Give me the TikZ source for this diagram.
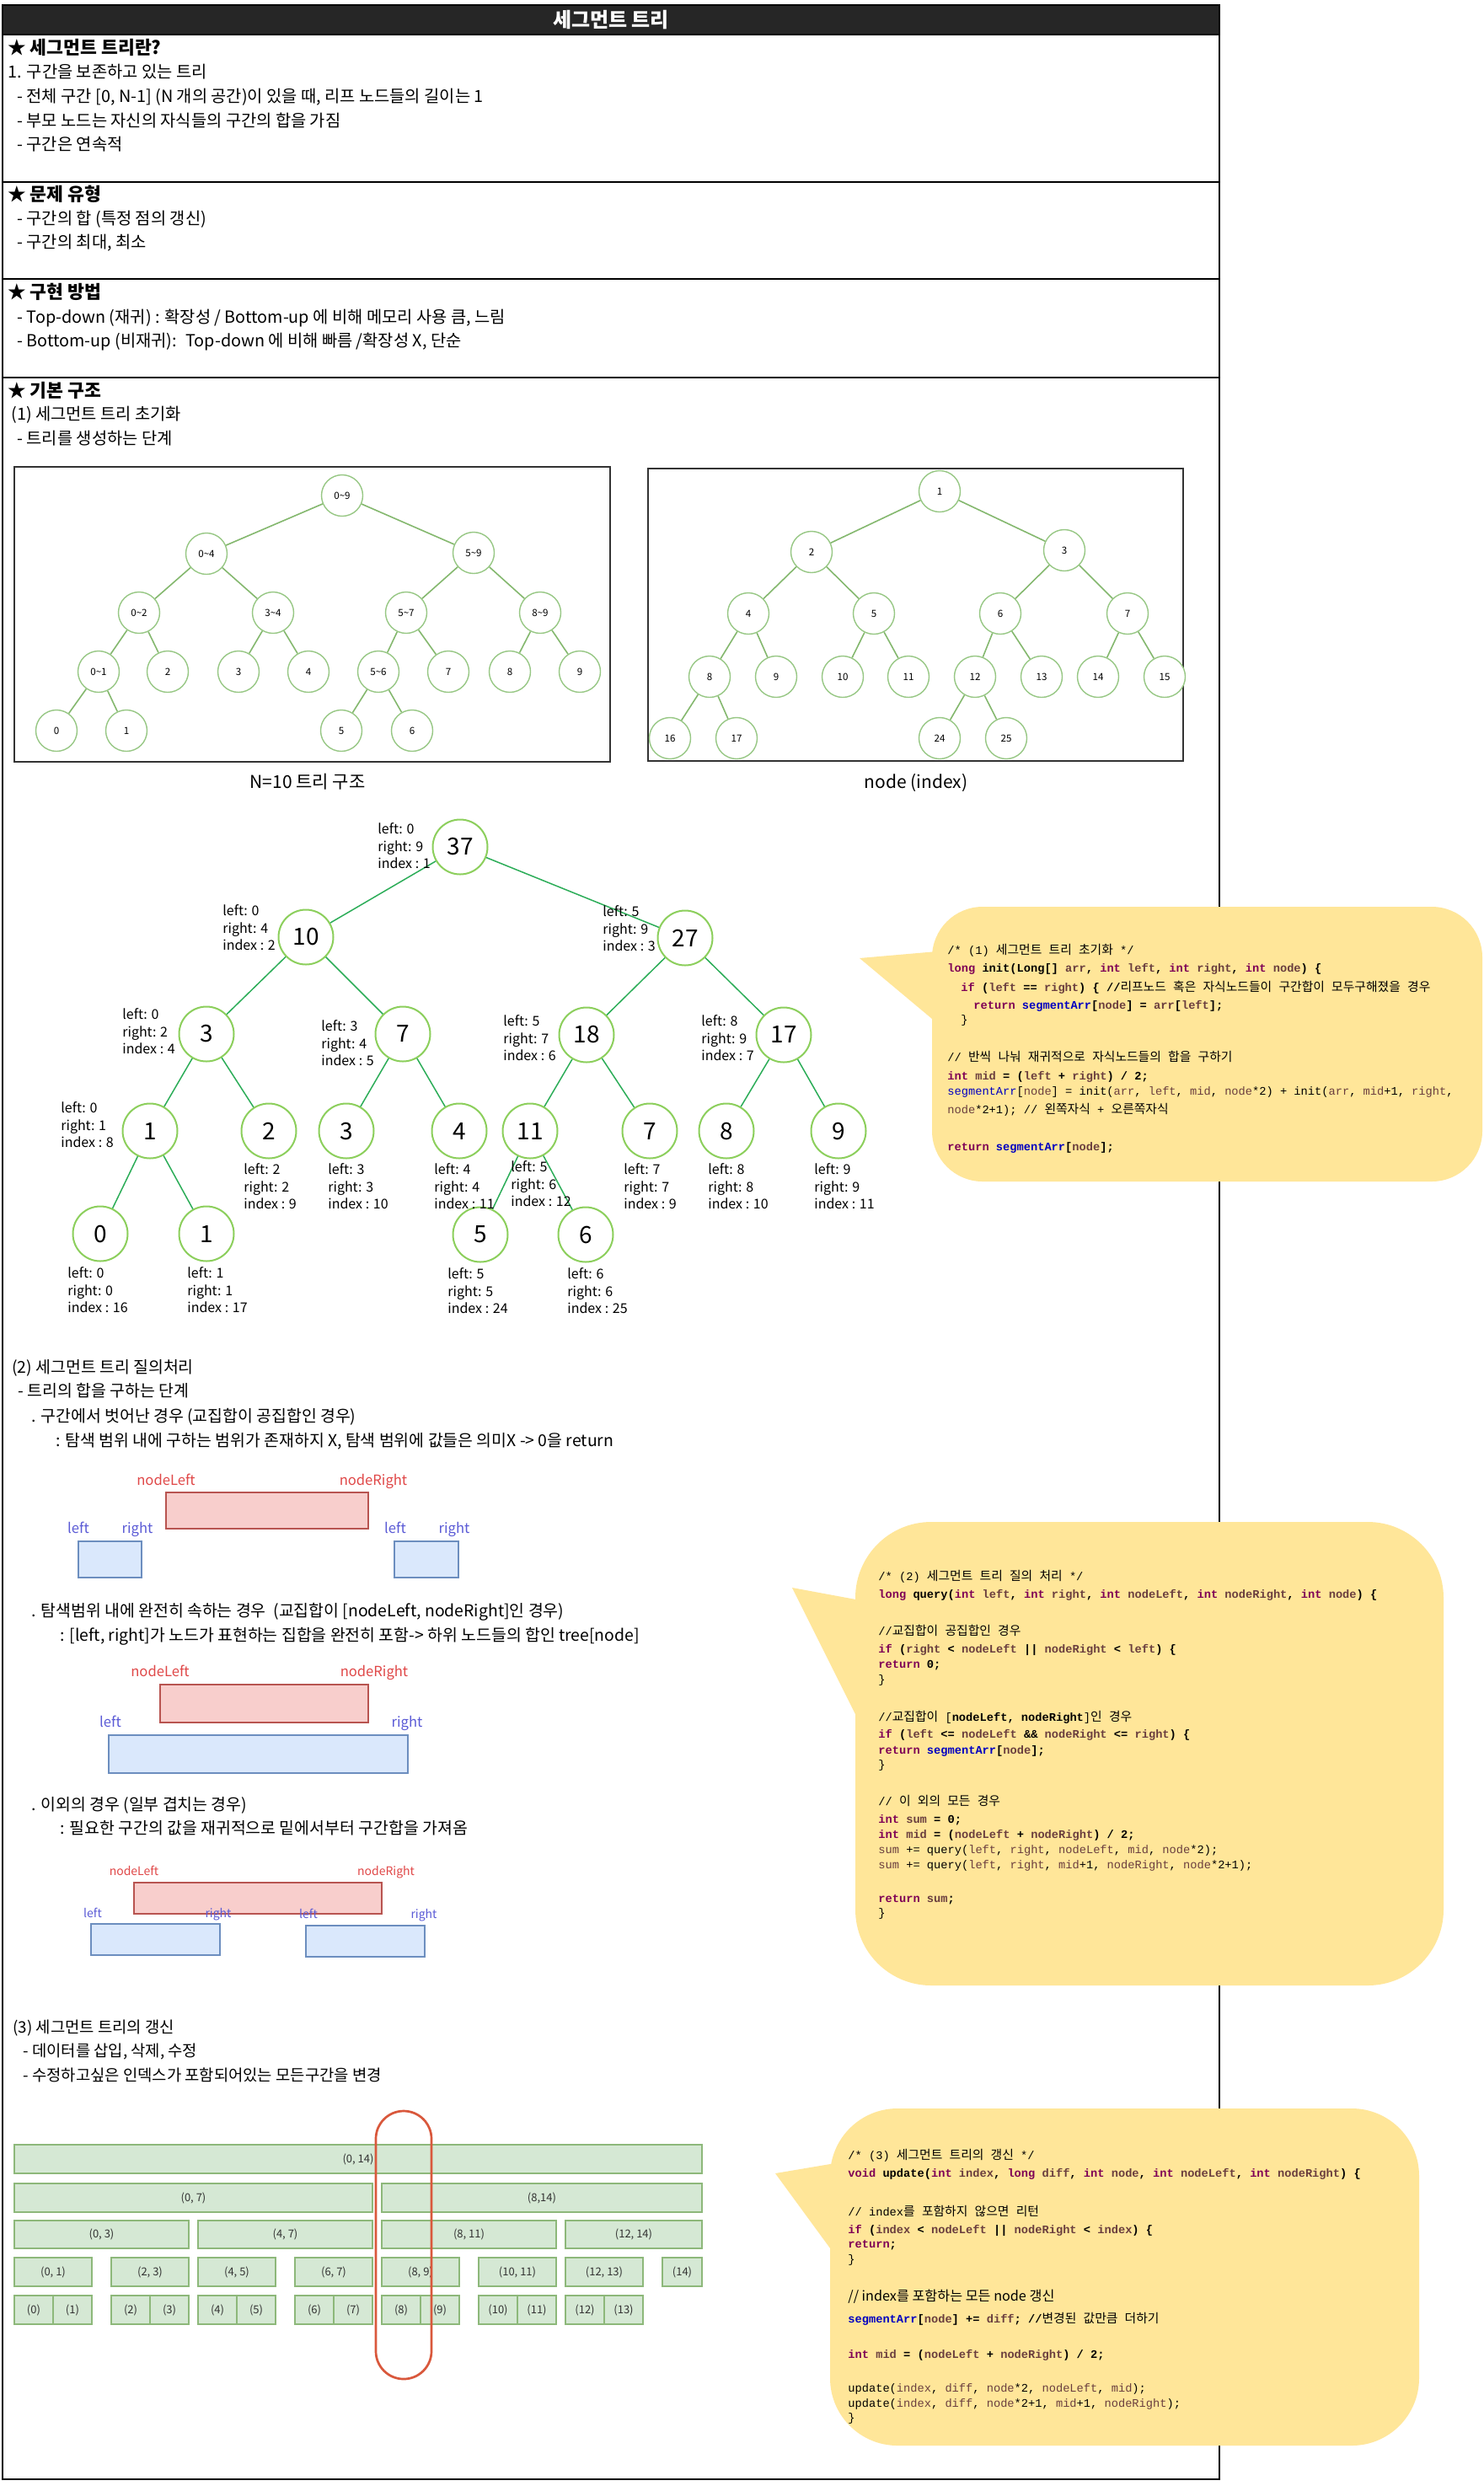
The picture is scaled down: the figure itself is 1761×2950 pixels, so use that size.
\documentclass[tikz,border=0pt]{standalone}
\usepackage{fontspec}
\setmainfont{Noto Sans CJK KR}
\newfontfamily\codefont{Liberation Mono}
\newfontfamily\krfont{Noto Sans CJK KR}
\definecolor{titlebg}{HTML}{262626}
\definecolor{kwc}{HTML}{7F0055}
\definecolor{vrc}{HTML}{6A3E3E}
\definecolor{sgc}{HTML}{0000C0}
\definecolor{bub}{HTML}{FFE699}
\definecolor{scc}{HTML}{97C784}
\definecolor{sec}{HTML}{84B86E}
\definecolor{bcc}{HTML}{8CCF5C}
\definecolor{bec}{HTML}{2CAD58}
\definecolor{redF}{HTML}{F8CECC}
\definecolor{redD}{HTML}{B85450}
\definecolor{redT}{HTML}{E04848}
\definecolor{bluF}{HTML}{DAE8FC}
\definecolor{bluD}{HTML}{6C8EBF}
\definecolor{bluT}{HTML}{5B5BD6}
\definecolor{barF}{HTML}{D5E8D4}
\definecolor{barD}{HTML}{8DB87A}
\definecolor{ovalc}{HTML}{D9583C}
\newcommand\kw[1]{\textcolor{kwc}{\textbf{#1}}}
\newcommand\vr[1]{\textcolor{vrc}{#1}}
\newcommand\sgarr{\textcolor{sgc}{\textbf{segmentArr}}}
\newcommand\kr[1]{{\krfont\mdseries\fontsize{7.4}{9}\selectfont\spaceskip=4.11pt\relax #1}}
\newcommand\trilabel[6]{%
  \node[lb] (#1l) at (#2,#3) {left: #4};
  \node[lb] (#1r) at (#2,#3+20.6) {right: #5};
  \node[lb] (#1i) at (#2,#3+41.2) {index : #6};}
\begin{document}
\begin{tikzpicture}[x=0.5pt,y=-0.5pt,
  txt/.style={anchor=base west, inner sep=0pt, font=\fontsize{9.9}{12}\selectfont},
  qtxt/.style={anchor=base west, inner sep=0pt, font=\fontsize{9.7}{12}\selectfont},
  utxt/.style={anchor=base west, inner sep=0pt, font=\fontsize{9.4}{12}\selectfont},
  hd/.style={anchor=base west, inner sep=0pt, font=\bfseries\fontsize{10.8}{13}\selectfont},
  code/.style={anchor=base west, inner sep=0pt, font=\codefont\fontsize{6.85}{8}\selectfont},
  codeb/.style={anchor=base west, inner sep=0pt, font=\codefont\bfseries\fontsize{6.85}{8}\selectfont},
  sc/.style={circle, draw=scc, line width=0.7pt, fill=white, minimum size=24.5pt, inner sep=0pt, font=\fontsize{5.8}{7}\selectfont},
  se/.style={draw=sec, line width=0.8pt},
  bc/.style={circle, draw=bcc, line width=1pt, fill=white, minimum size=32.5pt, inner sep=0pt, font=\fontsize{14}{16}\selectfont},
  be/.style={draw=bec, line width=0.75pt},
  lb/.style={anchor=base west, inner sep=0pt, font=\fontsize{8}{9}\selectfont},
  redbox/.style={draw=redD, fill=redF, line width=0.7pt, inner sep=0pt},
  blubox/.style={draw=bluD, fill=bluF, line width=0.7pt, inner sep=0pt},
  rl/.style={anchor=base, inner sep=0pt, text=redT, font=\fontsize{8.3}{10}\selectfont},
  bl/.style={anchor=base, inner sep=0pt, text=bluT, font=\fontsize{8.3}{10}\selectfont},
  rls/.style={rl, font=\fontsize{7}{8}\selectfont},
  bls/.style={bl, font=\fontsize{7}{8}\selectfont},
  bar/.style={draw=barD, fill=barF, line width=0.6pt, inner sep=0pt, text=black!80, font=\fontsize{6.5}{8}\selectfont},
  bubble/.style={fill=bub}]
\path[use as bounding box] (0,0) rectangle (1761,2950);
\fill[white] (0,0) rectangle (1761,2950);

% ---------- frame ----------
\fill[titlebg] (3,6) rectangle (1447,41);
\draw[line width=1pt] (3,6) rectangle (1447,2942);
\draw[line width=1pt] (3,41) -- (1447,41);
\draw[line width=1pt] (3,216) -- (1447,216);
\draw[line width=1pt] (3,331) -- (1447,331);
\draw[line width=1pt] (3,448) -- (1447,448);
\node[text=white, font=\bfseries\fontsize{12}{14}\selectfont] (title) at (725,23.5) {세그먼트 트리};

% ---------- sections ----------
\node[hd] (h1) at (9,64) {★ 세그먼트 트리란?};
\node[txt] (t11) at (9,92) {1. 구간을 보존하고 있는 트리};
\node[txt] (t12) at (20,121) {- 전체 구간 [0, N-1] (N 개의 공간)이 있을 때, 리프 노드들의 길이는 1};
\node[txt] (t13) at (20,150) {- 부모 노드는 자신의 자식들의 구간의 합을 가짐};
\node[txt] (t14) at (20,178) {- 구간은 연속적};
\node[hd] (h2) at (9,238) {★ 문제 유형};
\node[txt] (t21) at (20,266) {- 구간의 합 (특정 점의 갱신)};
\node[txt] (t22) at (20,294) {- 구간의 최대, 최소};
\node[hd] (h3) at (9,354) {★ 구현 방법};
\node[txt] (t31) at (20,383) {- Top-down (재귀) : 확장성 / Bottom-up 에 비해 메모리 사용 큼, 느림};
\node[txt] (t32) at (20,411) {- Bottom-up (비재귀):~ Top-down 에 비해 빠름 /확장성 X, 단순};
\node[hd] (h4) at (9,471) {★ 기본 구조};
\node[txt] (t41) at (13,498) {(1) 세그먼트 트리 초기화};
\node[txt] (t42) at (20,527) {- 트리를 생성하는 단계};

% ---------- image boxes ----------
\draw[line width=0.6pt, black!80] (17,554) rectangle (724,904);
\draw[line width=0.6pt, black!80] (769,556) rectangle (1404,903);
\node[font=\fontsize{10.5}{12}\selectfont] (cap1) at (365,928) {N=10 트리 구조};
\node[font=\fontsize{10.5}{12}\selectfont] (cap2) at (1087,929) {node (index)};

% left small tree
\node[sc] (L09) at (406,588) {0\textasciitilde 9};
\node[sc] (L04) at (245,657) {0\textasciitilde 4};
\node[sc] (L59) at (562,656) {5\textasciitilde 9};
\node[sc] (L02) at (165,727) {0\textasciitilde 2};
\node[sc] (L34) at (324,727) {3\textasciitilde 4};
\node[sc] (L57) at (482,727) {5\textasciitilde 7};
\node[sc] (L89) at (641,727) {8\textasciitilde 9};
\node[sc] (L01) at (117,797) {0\textasciitilde 1};
\node[sc] (L2) at (199,797) {2};
\node[sc] (L3) at (283,797) {3};
\node[sc] (L4) at (366,797) {4};
\node[sc] (L56) at (449,797) {5\textasciitilde 6};
\node[sc] (L7) at (532,797) {7};
\node[sc] (L8) at (605,797) {8};
\node[sc] (L9) at (688,797) {9};
\node[sc] (L0) at (67,867) {0};
\node[sc] (L1) at (150,867) {1};
\node[sc] (L5) at (405,867) {5};
\node[sc] (L6) at (489,867) {6};
\foreach \a/\b in {L09/L04,L09/L59,L04/L02,L04/L34,L59/L57,L59/L89,L02/L01,L02/L2,L34/L3,L34/L4,L57/L56,L57/L7,L89/L8,L89/L9,L01/L0,L01/L1,L56/L5,L56/L6}
  \draw[se] (\a) -- (\b);

% right small tree
\node[sc] (R1) at (1115,583) {1};
\node[sc] (R2) at (963,655) {2};
\node[sc] (R3) at (1263,653) {3};
\node[sc] (R4) at (888,728) {4};
\node[sc] (R5) at (1037,728) {5};
\node[sc] (R6) at (1187,728) {6};
\node[sc] (R7) at (1338,728) {7};
\node[sc] (R8) at (842,803) {8};
\node[sc] (R9) at (921,803) {9};
\node[sc] (R10) at (1000,803) {10};
\node[sc] (R11) at (1078,803) {11};
\node[sc] (R12) at (1157,803) {12};
\node[sc] (R13) at (1236,803) {13};
\node[sc] (R14) at (1303,803) {14};
\node[sc] (R15) at (1382,803) {15};
\node[sc] (R16) at (795,876) {16};
\node[sc] (R17) at (874,876) {17};
\node[sc] (R24) at (1115,876) {24};
\node[sc] (R25) at (1194,876) {25};
\foreach \a/\b in {R1/R2,R1/R3,R2/R4,R2/R5,R3/R6,R3/R7,R4/R8,R4/R9,R5/R10,R5/R11,R6/R12,R6/R13,R7/R14,R7/R15,R8/R16,R8/R17,R12/R24,R12/R25}
  \draw[se] (\a) -- (\b);

% ---------- big tree ----------
\node[bc] (B37) at (546,1005) {37};
\node[bc] (B10) at (363,1112) {10};
\node[bc] (B27) at (813,1113) {27};
\node[bc] (B3a) at (245,1227) {3};
\node[bc] (B7a) at (478,1227) {7};
\node[bc] (B18) at (696,1228) {18};
\node[bc] (B17) at (930,1228) {17};
\node[bc] (B1a) at (178,1342) {1};
\node[bc] (B2) at (319,1342) {2};
\node[bc] (B3b) at (411,1342) {3};
\node[bc] (B4) at (545,1342) {4};
\node[bc] (B11) at (629,1342) {11};
\node[bc] (B7b) at (771,1342) {7};
\node[bc] (B8) at (862,1342) {8};
\node[bc] (B9) at (995,1342) {9};
\node[bc] (B0) at (119,1464) {0};
\node[bc] (B1b) at (245,1464) {1};
\node[bc] (B5) at (570,1465) {5};
\node[bc] (B6) at (695,1465) {6};
\foreach \a/\b in {B37/B10,B37/B27,B10/B3a,B10/B7a,B27/B18,B27/B17,B3a/B1a,B3a/B2,B7a/B3b,B7a/B4,B18/B11,B18/B7b,B17/B8,B17/B9,B1a/B0,B1a/B1b,B11/B5,B11/B6}
  \draw[be] (\a) -- (\b);
\trilabel{lA}{448}{989.5}{0}{9}{1}
\trilabel{lB}{264}{1086.5}{0}{4}{2}
\trilabel{lC}{715}{1087.5}{5}{9}{3}
\trilabel{lD}{145}{1209.5}{0}{2}{4}
\trilabel{lE}{381}{1223.5}{3}{4}{5}
\trilabel{lF}{597}{1217.5}{5}{7}{6}
\trilabel{lG}{832}{1217.5}{8}{9}{7}
\trilabel{lH}{72}{1320.5}{0}{1}{8}
\trilabel{lI}{289}{1393.5}{2}{2}{9}
\trilabel{lJ}{389}{1393.5}{3}{3}{10}
\trilabel{lK}{515}{1393.5}{4}{4}{11}
\trilabel{lL}{606}{1390.5}{5}{6}{12}
\trilabel{lM}{740}{1393.5}{7}{7}{9}
\trilabel{lN}{840}{1393.5}{8}{8}{10}
\trilabel{lO}{966}{1393.5}{9}{9}{11}
\trilabel{lP}{80}{1516.5}{0}{0}{16}
\trilabel{lQ}{222}{1516.5}{1}{1}{17}
\trilabel{lR}{531}{1517.5}{5}{5}{24}
\trilabel{lS}{673}{1517.5}{6}{6}{25}

% ---------- query section ----------
\node[qtxt] (q1) at (14,1629) {(2) 세그먼트 트리 질의처리};
\node[qtxt] (q2) at (21,1657) {- 트리의 합을 구하는 단계};
\node[qtxt] (q3) at (37,1687) {. 구간에서 벗어난 경우 (교집합이 공집합인 경우)};
\node[qtxt] (q4) at (66,1716) {: 탐색 범위 내에 구하는 범위가 존재하지 X, 탐색 범위에 값들은 의미X -> 0을 return};
\node[redbox, minimum width=120pt, minimum height=21.5pt] (r1) at (317,1792.5) {};
\node[blubox, minimum width=37.5pt, minimum height=21.5pt] (b1) at (130.5,1850.5) {};
\node[blubox, minimum width=38pt, minimum height=21.5pt] (b2) at (506,1850.5) {};
\node[rl] (r1l) at (197,1762) {nodeLeft};
\node[rl] (r1r) at (443,1762) {nodeRight};
\node[bl] (b1l) at (93,1819) {left};
\node[bl] (b1r) at (163,1819) {right};
\node[bl] (b2l) at (469,1819) {left};
\node[bl] (b2r) at (539,1819) {right};

\node[qtxt] (q5) at (37,1918) {. 탐색범위 내에 완전히 속하는 경우~ (교집합이 [nodeLeft, nodeRight]인 경우)};
\node[qtxt] (q6) at (71,1947) {: [left, right]가 노드가 표현하는 집합을 완전히 포함-> 하위 노드들의 합인 tree[node]};
\node[redbox, minimum width=123.5pt, minimum height=22.5pt] (r2) at (313.5,2021.5) {};
\node[blubox, minimum width=177.5pt, minimum height=22.5pt] (b3) at (306.5,2081.5) {};
\node[rl] (r2l) at (190,1989) {nodeLeft};
\node[rl] (r2r) at (444,1989) {nodeRight};
\node[bl] (b3l) at (131,2049) {left};
\node[bl] (b3r) at (483,2049) {right};

\node[qtxt] (q7) at (37,2148) {. 이외의 경우 (일부 겹치는 경우)};
\node[qtxt] (q8) at (71,2176) {: 필요한 구간의 값을 재귀적으로 밑에서부터 구간합을 가져옴};
\node[redbox, minimum width=147pt, minimum height=18.5pt] (r3) at (306,2252.5) {};
\node[blubox, minimum width=76.5pt, minimum height=18.5pt] (b4) at (184.5,2301.5) {};
\node[blubox, minimum width=70.5pt, minimum height=18.5pt] (b5) at (433.5,2303.5) {};
\node[rls] (r3l) at (159,2225) {nodeLeft};
\node[rls] (r3r) at (458,2225) {nodeRight};
\node[bls] (b4l) at (110,2275) {left};
\node[bls] (b4r) at (259,2275) {right};
\node[bls] (b5l) at (366,2276) {left};
\node[bls] (b5r) at (503,2276) {right};

% ---------- update section ----------
\node[utxt] (u1) at (15,2412) {(3) 세그먼트 트리의 갱신};
\node[utxt] (u2) at (27,2440) {- 데이터를 삽입, 삭제, 수정};
\node[utxt] (u3) at (27,2469) {- 수정하고싶은 인덱스가 포함되어있는 모든구간을 변경};

\node[bar, minimum width=408pt, minimum height=17pt] (s014) at (425,2562) {(0, 14)};
\node[bar, minimum width=212.5pt, minimum height=17pt] (s07) at (229.5,2608) {(0, 7)};
\node[bar, minimum width=190pt, minimum height=17pt] (s814) at (643,2608) {(8,14)};
\node[bar, minimum width=103.5pt, minimum height=16.5pt] (s03) at (120.5,2651.5) {(0, 3)};
\node[bar, minimum width=103.5pt, minimum height=16.5pt] (s47) at (338.5,2651.5) {(4, 7)};
\node[bar, minimum width=103.5pt, minimum height=16.5pt] (s811) at (556.5,2651.5) {(8, 11)};
\node[bar, minimum width=81pt, minimum height=16.5pt] (s1214) at (752,2651.5) {(12, 14)};
\node[bar, minimum width=46pt, minimum height=17pt] (s01) at (63,2696) {(0, 1)};
\node[bar, minimum width=46pt, minimum height=17pt] (s23) at (178,2696) {(2, 3)};
\node[bar, minimum width=46pt, minimum height=17pt] (s45) at (281,2696) {(4, 5)};
\node[bar, minimum width=46pt, minimum height=17pt] (s67) at (396,2696) {(6, 7)};
\node[bar, minimum width=46pt, minimum height=17pt] (s89) at (499,2696) {(8, 9)};
\node[bar, minimum width=46pt, minimum height=17pt] (s1011) at (614,2696) {(10, 11)};
\node[bar, minimum width=46pt, minimum height=17pt] (s1213) at (717,2696) {(12, 13)};
\node[bar, minimum width=23.5pt, minimum height=17pt] (s14) at (809.5,2696) {(14)};
\foreach \n/\cx in {0/40,1/86,2/155,3/201,4/258,5/304,6/373,7/419,8/476,9/522,10/591,11/637,12/694,13/740}
  \node[bar, minimum width=23pt, minimum height=17pt] (e\n) at (\cx,2741) {(\n)};
\draw[ovalc, line width=1.35pt, rounded corners=16.5pt] (446,2505) rectangle (512,2823);

% ---------- code bubble 1 ----------
\fill[bubble, rounded corners=30pt] (1106,1076) rectangle (1759,1402);
\fill[bubble] (1020,1137) -- (1112,1129) -- (1112,1214) -- cycle;
\node[code] (c1a) at (1124,1132.5) {/* (1) \kr{세그먼트 트리 초기화} */};
\node[codeb] (c1b) at (1124,1153.5) {\kw{long} init(Long[] \vr{arr}, \kw{int} \vr{left}, \kw{int} \vr{right}, \kw{int} \vr{node}) \{};
\node[codeb] (c1c) at (1140,1176.5) {\kw{if} (\vr{left} == \vr{right}) \{ //\kr{리프노드 혹은 자식노드들이 구간합이 모두구해졌을 경우}};
\node[codeb] (c1d) at (1155,1197.5) {\kw{return} \sgarr[\vr{node}] = \vr{arr}[\vr{left}];};
\node[code] (c1e) at (1140,1214.5) {\}};
\node[code] (c1f) at (1124,1259.5) {// \kr{반씩 나눠 재귀적으로 자식노드들의 합을 구하기}};
\node[codeb] (c1g) at (1124,1281.5) {\kw{int} \vr{mid} = (\vr{left} + \vr{right}) / 2;};
\node[code] (c1h) at (1124,1299.5) {\textcolor{sgc}{segmentArr}[\vr{node}] = init(\vr{arr}, \vr{left}, \vr{mid}, \vr{node}*2) + init(\vr{arr}, \vr{mid}+1, \vr{right},};
\node[code] (c1i) at (1124,1321.5) {\vr{node}*2+1); // \kr{왼쪽자식} + \kr{오른쪽자식}};
\node[codeb] (c1j) at (1124,1365.5) {\kw{return} \sgarr[\vr{node}];};

% ---------- code bubble 2 ----------
\fill[bubble, rounded corners=45pt] (1015,1806) rectangle (1713,2356);
\fill[bubble] (940,1884) -- (1021,1899) -- (1021,2046) -- cycle;
\node[code] (c2a) at (1042,1875.5) {/* (2) \kr{세그먼트 트리 질의 처리} */};
\node[codeb] (c2b) at (1042,1896.5) {\kw{long} query(\kw{int} \vr{left}, \kw{int} \vr{right}, \kw{int} \vr{nodeLeft}, \kw{int} \vr{nodeRight}, \kw{int} \vr{node}) \{};
\node[code] (c2c) at (1042,1940.5) {//\kr{교집합이 공집합인 경우}};
\node[codeb] (c2d) at (1042,1961.5) {\kw{if} (\vr{right} < \vr{nodeLeft} || \vr{nodeRight} < \vr{left}) \{};
\node[codeb] (c2e) at (1042,1979.5) {\kw{return} 0;};
\node[code] (c2f) at (1042,1997.5) {\}};
\node[code] (c2g) at (1042,2042.5) {//\kr{교집합이} [\textbf{nodeLeft, nodeRight}]\kr{인 경우}};
\node[codeb] (c2h) at (1042,2062.5) {\kw{if} (\vr{left} <= \vr{nodeLeft} \&\& \vr{nodeRight} <= \vr{right}) \{};
\node[codeb] (c2i) at (1042,2081.5) {\kw{return} \sgarr[\vr{node}];};
\node[code] (c2j) at (1042,2098.5) {\}};
\node[code] (c2k) at (1042,2142.5) {// \kr{이 외의 모든 경우}};
\node[codeb] (c2l) at (1042,2163.5) {\kw{int} \vr{sum} = 0;};
\node[codeb] (c2m) at (1042,2181.5) {\kw{int} \vr{mid} = (\vr{nodeLeft} + \vr{nodeRight}) / 2;};
\node[code] (c2n) at (1042,2199.5) {\vr{sum} += query(\vr{left}, \vr{right}, \vr{nodeLeft}, \vr{mid}, \vr{node}*2);};
\node[code] (c2o) at (1042,2217.5) {\vr{sum} += query(\vr{left}, \vr{right}, \vr{mid}+1, \vr{nodeRight}, \vr{node}*2+1);};
\node[codeb] (c2p) at (1042,2257.5) {\kw{return} \vr{sum};};
\node[code] (c2q) at (1042,2274.5) {\}};

% ---------- code bubble 3 ----------
\fill[bubble, rounded corners=40pt] (985,2502) rectangle (1684,2902);
\fill[bubble] (920,2579) -- (991,2567) -- (991,2676) -- cycle;
\node[code] (c3a) at (1006,2562.5) {/* (3) \kr{세그먼트 트리의 갱신} */};
\node[codeb] (c3b) at (1006,2583.5) {\kw{void} update(\kw{int} \vr{index}, \kw{long} \vr{diff}, \kw{int} \vr{node}, \kw{int} \vr{nodeLeft}, \kw{int} \vr{nodeRight}) \{};
\node[code] (c3c) at (1006,2629.5) {// index\kr{를 포함하지 않으면 리턴}};
\node[codeb] (c3d) at (1006,2650.5) {\kw{if} (\vr{index} < \vr{nodeLeft} || \vr{nodeRight} < \vr{index}) \{};
\node[codeb] (c3e) at (1006,2667.5) {\kw{return};};
\node[code] (c3f) at (1006,2685.5) {\}};
\node[code, font=\krfont\fontsize{8.1}{10}\selectfont] (c3g) at (1006,2730.5) {// index를 포함하는 모든 node 갱신};
\node[codeb] (c3h) at (1006,2756.5) {\sgarr[\vr{node}] += \vr{diff}; //\kr{변경된 값만큼 더하기}};
\node[codeb] (c3i) at (1006,2798.5) {\kw{int} \vr{mid} = (\vr{nodeLeft} + \vr{nodeRight}) / 2;};
\node[code] (c3j) at (1006,2838.5) {update(\vr{index}, \vr{diff}, \vr{node}*2, \vr{nodeLeft}, \vr{mid});};
\node[code] (c3k) at (1006,2856.5) {update(\vr{index}, \vr{diff}, \vr{node}*2+1, \vr{mid}+1, \vr{nodeRight});};
\node[code] (c3l) at (1006,2873.5) {\}};
\end{tikzpicture}
\end{document}
